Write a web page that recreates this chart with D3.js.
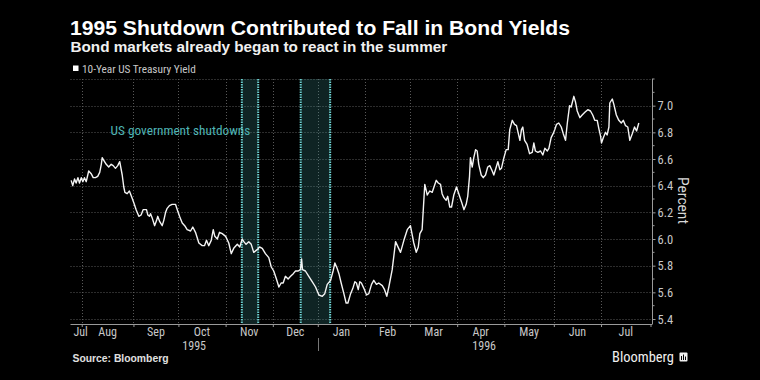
<!DOCTYPE html>
<html><head><meta charset="utf-8">
<script src="https://cdn.jsdelivr.net/npm/d3@7"></script>
<style>html,body{margin:0;padding:0;background:#000;} svg{display:block;}</style>
</head><body>
<svg id="chart" width="760" height="380"></svg>
<script>
const titleText = "1995 Shutdown Contributed to Fall in Bond Yields";
const subtitleText = "Bond markets already began to react in the summer";
const seriesName = "10-Year US Treasury Yield";
const annotationText = "US government shutdowns";
const sourceText = "Source: Bloomberg";
const yAxisTitle = "Percent";
const brandText = "Bloomberg";

// trading-day index (0 = 25 Jul 1995) of each reading
const tradingDay = [0.3,1.0,1.8,2.5,3.3,4.0,4.8,5.5,6.2,7.0,8.1,9.2,10.1,11.1,12.1,13.0,13.7,14.1,14.8,15.9,17.0,18.1,19.0,20.0,21.0,21.9,23.0,23.7,24.2,25.2,26.2,27.1,28.2,29.2,30.4,31.4,32.3,33.8,34.4,35.1,35.6,36.3,37.4,38.3,38.8,39.7,40.8,41.5,42.3,43.0,44.0,45.2,46.7,47.5,48.5,49.7,50.8,51.9,53.4,54.4,55.6,57.1,58.6,59.6,60.5,61.5,62.6,63.5,64.2,65.3,66.3,67.5,69.0,70.4,71.5,72.6,74.2,75.3,76.4,77.1,78.1,79.3,80.4,81.5,83.0,84.1,85.3,86.7,88.2,89.3,90.4,91.6,92.7,93.7,94.6,95.6,96.8,97.9,99.1,100.1,101.3,102.3,102.8,103.2,104.5,106.0,107.5,109.0,110.5,112.0,113.1,114.2,115.7,116.8,117.6,118.6,119.4,120.4,121.6,122.6,123.4,124.6,125.6,126.5,127.2,128.0,128.7,129.4,130.5,131.7,132.7,133.9,134.9,136.1,137.1,138.7,139.7,140.7,141.6,143.1,144.6,146.8,148.3,149.8,151.2,152.7,153.8,154.7,155.4,156.4,157.6,158.7,159.8,160.9,162.7,163.6,164.6,165.3,166.1,167.1,167.8,168.7,169.5,170.5,171.7,172.7,173.9,175.0,176.0,176.7,177.5,177.9,178.7,179.4,180.2,180.9,181.6,182.7,183.6,184.6,185.6,186.5,187.6,188.3,189.4,190.1,191.0,191.7,192.8,193.8,194.7,195.4,196.5,197.5,198.4,199.9,200.6,201.2,202.0,203.1,204.2,205.4,206.1,206.8,207.9,209.1,210.1,211.0,212.1,212.8,213.8,214.7,215.4,216.2,217.2,218.3,219.2,220.2,221.0,222.0,222.7,223.9,224.6,225.4,226.6,227.6,228.8,230.1,231.3,232.3,233.2,234.3,235.0,235.8,236.2,237.0,238.0,238.7,239.5,239.9,241.0,241.7,242.8,243.9,245.0,245.9,246.9,247.9,248.8,249.9,250.9,251.8,252.8];
const yieldPct = [6.44,6.40,6.45,6.42,6.46,6.42,6.46,6.43,6.46,6.43,6.51,6.49,6.46,6.46,6.47,6.50,6.56,6.61,6.59,6.56,6.54,6.56,6.55,6.53,6.55,6.58,6.48,6.39,6.35,6.34,6.36,6.32,6.27,6.22,6.17,6.18,6.22,6.22,6.18,6.17,6.19,6.16,6.10,6.14,6.17,6.13,6.10,6.14,6.20,6.23,6.25,6.26,6.26,6.22,6.17,6.12,6.10,6.07,6.06,6.09,6.05,5.97,5.95,5.95,5.99,5.95,5.99,6.07,6.02,6.00,6.05,6.04,6.02,5.97,5.89,5.93,5.96,5.94,6.00,5.98,5.96,5.98,5.96,5.90,5.92,5.94,5.93,5.89,5.86,5.79,5.76,5.70,5.64,5.67,5.67,5.72,5.70,5.72,5.74,5.76,5.76,5.77,5.85,5.77,5.76,5.72,5.68,5.64,5.58,5.57,5.59,5.66,5.69,5.76,5.82,5.78,5.74,5.67,5.59,5.52,5.52,5.59,5.63,5.68,5.67,5.62,5.68,5.67,5.63,5.58,5.59,5.66,5.69,5.66,5.67,5.65,5.62,5.57,5.64,5.77,5.98,5.90,5.99,6.07,6.10,5.97,5.90,5.94,6.04,6.07,6.41,6.33,6.36,6.35,6.44,6.42,6.41,6.34,6.31,6.29,6.32,6.24,6.24,6.33,6.39,6.34,6.28,6.22,6.26,6.32,6.47,6.61,6.54,6.61,6.67,6.66,6.56,6.48,6.46,6.48,6.54,6.55,6.51,6.48,6.54,6.58,6.52,6.53,6.61,6.67,6.67,6.82,6.89,6.86,6.85,6.74,6.82,6.84,6.74,6.71,6.64,6.65,6.72,6.66,6.65,6.66,6.63,6.68,6.66,6.68,6.76,6.79,6.82,6.86,6.87,6.84,6.79,6.74,6.87,7.00,6.99,7.07,7.03,6.96,6.91,6.93,6.95,6.97,6.96,6.93,6.89,6.89,6.83,6.77,6.72,6.76,6.80,6.78,6.84,7.02,7.05,7.01,6.93,6.89,6.87,6.89,6.85,6.84,6.74,6.79,6.84,6.81,6.87];

// month labels and trading-day index at which each month starts
const monthLabels = ["Jul","Aug","Sep","Oct","Nov","Dec","Jan","Feb","Mar","Apr","May","Jun","Jul"];
const monthStartDay = [0,5,28,48,69,90,110,131,151,172,193,215,236];
const axisEndDay = 258;
const yearLabels = ["1995","1996"];
const yearStartDay = [0,110];
const yearEndDay = [110,258];

const yTickValues = [5.4,5.6,5.8,6.0,6.2,6.4,6.6,6.8,7.0];
const yGridValues = [5.4,5.6,5.8,6.0,6.2,6.4,6.6,6.8,7.0,7.2];
const yMinorValues = [5.5,5.7,5.9,6.1,6.3,6.5,6.7,6.9,7.1,7.2];
const yDomain = [5.3625, 7.2];

// shutdown periods in trading-day index
const shutdownStartDay = [76.2, 102.4];
const shutdownEndDay = [83.5, 115.5];

const svg = d3.select("#chart");
svg.append("rect").attr("width",760).attr("height",380).attr("fill","#000");

const plotLeft = 70.5, plotRight = 652, plotTop = 79, plotBottom = 324;
const x = d3.scaleLinear().domain([0, axisEndDay]).range([70.5, 650.5]);
const y = d3.scaleLinear().domain(yDomain).range([plotBottom, plotTop]);

const axisFont = "'Liberation Sans Narrow','Roboto Condensed','Liberation Sans',Arial,sans-serif";
const mainFont = "'Liberation Sans',Arial,sans-serif";

function fit(sel, w){
  const l = sel.node().getComputedTextLength();
  const fs = parseFloat(sel.attr("font-size"));
  if (l > 0) sel.attr("font-size", (fs * w / l).toFixed(2));
  return sel;
}

// Titles
fit(svg.append("text").attr("x",70).attr("y",34.5).attr("fill","#fff")
  .attr("font-family",mainFont).attr("font-weight","bold").attr("font-size",19)
  .text(titleText), 500);
fit(svg.append("text").attr("x",70.5).attr("y",52).attr("fill","#f0f0f0")
  .attr("font-family",mainFont).attr("font-weight","bold").attr("font-size",14)
  .text(subtitleText), 377);

// Legend
svg.append("rect").attr("x",73).attr("y",65.5).attr("width",5.5).attr("height",5.5).attr("fill","#fff");
fit(svg.append("text").attr("x",82).attr("y",72.5).attr("fill","#c8c8c8")
  .attr("font-family",axisFont).attr("font-size",10)
  .text(seriesName), 114);

// Gridlines
const grid = svg.append("g");
grid.selectAll("line.h").data(yGridValues).join("line")
  .attr("x1",plotLeft).attr("x2",plotRight)
  .attr("y1",d=>Math.round(y(d))+0.5).attr("y2",d=>Math.round(y(d))+0.5)
  .attr("stroke","#595959").attr("stroke-width",1).attr("stroke-dasharray","1,2");
grid.selectAll("line.v").data(monthStartDay.slice(1)).join("line")
  .attr("x1",d=>Math.round(x(d))+0.5).attr("x2",d=>Math.round(x(d))+0.5)
  .attr("y1",plotTop).attr("y2",plotBottom)
  .attr("stroke","#595959").attr("stroke-width",1).attr("stroke-dasharray","1,2");

// Annotation text
fit(svg.append("text").attr("x",110.5).attr("y",135).attr("fill","#4fb5b5")
  .attr("font-family",axisFont).attr("font-size",13)
  .text(annotationText), 140);

// Shutdown bands
const bands = svg.append("g");
const bandData = d3.range(shutdownStartDay.length).map(i => [shutdownStartDay[i], shutdownEndDay[i]]);
bands.selectAll("rect").data(bandData).join("rect")
  .attr("x",d=>x(d[0])).attr("width",d=>x(d[1])-x(d[0]))
  .attr("y",plotTop).attr("height",plotBottom-plotTop)
  .attr("fill","rgba(70,165,165,0.22)");
bands.selectAll("line").data(bandData.flat()).join("line")
  .attr("x1",d=>x(d)).attr("x2",d=>x(d))
  .attr("y1",plotTop).attr("y2",plotBottom)
  .attr("stroke","#6cd0d0").attr("stroke-width",2).attr("stroke-dasharray","1.5,1");

// Line
const line = d3.line().x(i=>x(tradingDay[i])).y(i=>y(yieldPct[i]));
svg.append("path").attr("d", line(d3.range(tradingDay.length)))
  .attr("fill","none").attr("stroke","#f4f4f4").attr("stroke-width",1.4)
  .attr("stroke-linejoin","round");

// Bottom axis
const xAxis = d3.axisBottom(x).tickValues(monthStartDay.slice(1).concat([axisEndDay]))
  .tickSize(3).tickFormat("").tickSizeOuter(0);
const gx = svg.append("g").attr("transform",`translate(0,${plotBottom})`).call(xAxis);
gx.select(".domain").remove();
gx.selectAll(".tick line").attr("stroke","#9a9a9a");
svg.append("line").attr("x1",plotLeft).attr("x2",plotRight).attr("y1",plotBottom+0.5).attr("y2",plotBottom+0.5)
  .attr("stroke","#9a9a9a").attr("stroke-width",1);

// Month labels
const monthMid = monthLabels.map((m,i)=>{
  const a = monthStartDay[i], b = i+1 < monthStartDay.length ? monthStartDay[i+1] : axisEndDay;
  return (a+b)/2;
});
svg.append("g").selectAll("text").data(monthLabels).join("text")
  .attr("x",(d,i)=> i===0 ? x(0)+3 : x(monthMid[i]))
  .attr("text-anchor",(d,i)=> i===0 ? "start" : "middle")
  .attr("y",335.5).attr("fill","#c8c8c8")
  .attr("font-family",axisFont).attr("font-size",12)
  .text(d=>d);

// Year labels
svg.append("g").selectAll("text").data(yearLabels).join("text")
  .attr("x",(d,i)=>x((yearStartDay[i]+yearEndDay[i])/2))
  .attr("text-anchor","middle").attr("y",350).attr("fill","#c8c8c8")
  .attr("font-family",axisFont).attr("font-size",12)
  .text(d=>d);
svg.append("line").attr("x1",Math.round(x(yearStartDay[1]))+0.5).attr("x2",Math.round(x(yearStartDay[1]))+0.5)
  .attr("y1",338).attr("y2",351).attr("stroke","#777").attr("stroke-width",1);

// Right axis
const yAxis = d3.axisRight(y).tickValues(yTickValues).tickSize(3.5).tickPadding(2)
  .tickFormat(d3.format(".1f")).tickSizeOuter(0);
const gy = svg.append("g").attr("transform",`translate(${plotRight},0)`).call(yAxis);
gy.select(".domain").remove();
gy.selectAll(".tick line").attr("stroke","#9a9a9a");
gy.selectAll(".tick text").attr("fill","#c8c8c8").attr("font-family",axisFont).attr("font-size",12.5);
svg.append("g").selectAll("line").data(yMinorValues).join("line")
  .attr("x1",plotRight).attr("x2",plotRight+2.5)
  .attr("y1",d=>y(d)).attr("y2",d=>y(d)).attr("stroke","#9a9a9a");
svg.append("line").attr("x1",plotRight+0.5).attr("x2",plotRight+0.5).attr("y1",plotTop).attr("y2",plotBottom+0.5)
  .attr("stroke","#9a9a9a").attr("stroke-width",1);

// Axis title
fit(svg.append("text").attr("transform",`translate(678,${(plotTop+plotBottom)/2 - 1}) rotate(90)`)
  .attr("text-anchor","middle").attr("fill","#d8d8d8")
  .attr("font-family",axisFont).attr("font-size",14)
  .text(yAxisTitle), 47);

// Footer
fit(svg.append("text").attr("x",72.5).attr("y",361.5).attr("fill","#e0e0e0")
  .attr("font-family",mainFont).attr("font-weight","bold").attr("font-size",10)
  .text(sourceText), 96);
fit(svg.append("text").attr("x",612).attr("y",361.5).attr("fill","#f0f0f0")
  .attr("font-family",axisFont).attr("font-size",14)
  .text(brandText), 62);
const logo = svg.append("g").attr("transform","translate(679.5,352.5)");
logo.append("rect").attr("width",8).attr("height",9).attr("rx",1).attr("fill","#f0f0f0");
logo.selectAll("rect.bar").data([[1.5,3.5,1],[3.5,2,1],[5.5,4,1]]).join("rect")
  .attr("x",d=>d[0]).attr("y",d=>d[1]).attr("width",d=>d[2]).attr("height",d=>7.5-d[1])
  .attr("fill","#000");
</script>
</body></html>
